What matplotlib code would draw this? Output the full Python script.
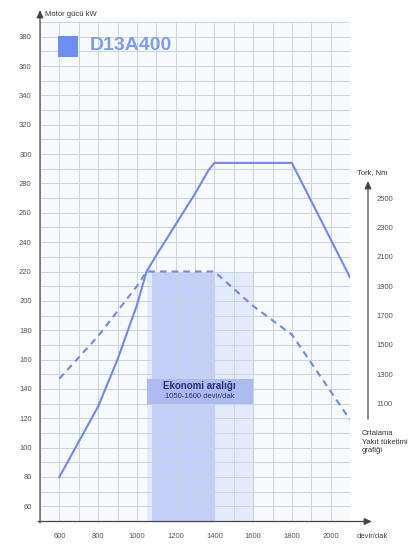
import matplotlib
matplotlib.use("Agg")
import matplotlib.pyplot as plt
from matplotlib.ticker import MultipleLocator
from matplotlib.patches import Rectangle

# ---- data ----
rpm_power = [600, 800, 900, 1000, 1050, 1100, 1200, 1300, 1370, 1400, 1800, 2100]
power_kw = [80, 128, 160, 197, 220, 231, 252, 273, 289, 294, 294, 216]

rpm_torque = [600, 800, 1000, 1050, 1400, 1600, 1800, 2100]
torque_nm = [1270, 1560, 1900, 2000, 2000, 1765, 1570, 990]

x_ticks = [600, 800, 1000, 1200, 1400, 1600, 1800, 2000]
power_ticks = [60, 80, 100, 120, 140, 160, 180, 200, 220, 240, 260, 280, 300, 320, 340, 360, 380]
torque_ticks = [1100, 1300, 1500, 1700, 1900, 2100, 2300, 2500]

econ_range = [1050, 1600]      # light band
econ_core = [1080, 1400]       # darker band
econ_top_kw = 220              # band top (2000 Nm level)
econ_box_kw = [130, 147]

model_name = "D13A400"
x_label = "devir/dak"
left_label = "Motor gücü kW"
right_label = "Tork, Nm"
right_note = "Ortalama\nYakıt tüketimi\ngrafiği"
econ_line1 = "Ekonomi aralığı"
econ_line2 = "1050-1600 devir/dak"


def kw_to_nm(p):
    return 10 * p - 200


W, H = 413, 548
fig = plt.figure(figsize=(W / 100, H / 100), dpi=100)
fig.patch.set_facecolor("white")
ax = fig.add_axes([40 / W, 27 / H, 310 / W, 499 / H])
ax.set_facecolor("#f7fbfe")
ax.set_xlim(500, 2100)
ax.set_ylim(50, 390)

line_col = "#7189e6"
font = ["Liberation Sans", "DejaVu Sans"]

# bands
ax.fill_between(econ_range, 50, econ_top_kw, color="#e2eafb", lw=0, zorder=0.3)
ax.fill_between(econ_core, 50, econ_top_kw, color="#c3cff8", lw=0, zorder=0.35)

# grid
ax.set_xticks(x_ticks)
ax.set_yticks(power_ticks)
ax.xaxis.set_minor_locator(MultipleLocator(100))
ax.yaxis.set_minor_locator(MultipleLocator(10))
ax.set_axisbelow(True)
ax.grid(which="both", color="#c9d4de", lw=0.7)
for s in ax.spines.values():
    s.set_visible(False)
ax.tick_params(which="both", length=0)
ax.tick_params(axis="y", labelsize=5.5, labelcolor="#555555", pad=6)
ax.tick_params(axis="x", labelsize=5.5, labelcolor="#555555", pad=9)
for lab in ax.get_xticklabels() + ax.get_yticklabels():
    lab.set_family(font)

# power line
ax.plot(rpm_power, power_kw, color=line_col, lw=1.5, solid_joinstyle="round", zorder=3)

# economy box
ax.add_patch(Rectangle((econ_range[0], econ_box_kw[0]), econ_range[1] - econ_range[0],
                       econ_box_kw[1] - econ_box_kw[0], facecolor="#adbbf1",
                       edgecolor="none", zorder=2))
xc = (econ_range[0] + econ_range[1]) / 2
ax.text(xc, econ_box_kw[1] - 5, econ_line1, ha="center", va="center",
        fontsize=7, color="#27307a", family=font, fontweight="bold", zorder=4)
ax.text(xc, econ_box_kw[0] + 4.5, econ_line2, ha="center", va="center",
        fontsize=5.5, color="#27307a", family=font, zorder=4)

# torque axis
ax2 = ax.twinx()
ax2.set_ylim(kw_to_nm(50), kw_to_nm(390))
ax2.set_yticks(torque_ticks)
for s in ax2.spines.values():
    s.set_visible(False)
ax2.tick_params(length=0, labelsize=5.5, labelcolor="#555555", pad=19)
for lab in ax2.get_yticklabels():
    lab.set_family(font)
ax2.plot(rpm_torque, torque_nm, color=line_col, lw=1.5, ls=(0, (3.2, 2.4)), zorder=3)

# axis lines with arrows (figure pixels)
arrow = dict(arrowstyle="-|>,head_length=0.45,head_width=0.2", color="#444444", lw=0.9,
             shrinkA=0, shrinkB=0)
ax.annotate("", xy=(40, H - 10), xytext=(40, 25), xycoords="figure pixels",
            textcoords="figure pixels", arrowprops=arrow, annotation_clip=False)
ax.annotate("", xy=(372, 26.5), xytext=(38, 26.5), xycoords="figure pixels",
            textcoords="figure pixels", arrowprops=arrow, annotation_clip=False)
ax.annotate("", xy=(368, H - 181), xytext=(368, H - 419), xycoords="figure pixels",
            textcoords="figure pixels", arrowprops=arrow, annotation_clip=False)

# texts
fig.text(45 / W, 1 - 14 / H, left_label, fontsize=5.5, color="#333333",
         va="center", ha="left", family=font)
fig.text(357 / W, 1 - 173 / H, right_label, fontsize=5.5, color="#333333",
         va="center", ha="left", family=font)
fig.text(362 / W, 1 - 442 / H, right_note, fontsize=5.5, color="#333333",
         va="center", ha="left", family=font, linespacing=1.35)
fig.text(357 / W, 1 - 537 / H, x_label, fontsize=5.5, color="#444444",
         va="center", ha="left", family=font)

# legend
fig.add_artist(Rectangle((58 / W, 1 - 57 / H), 20 / W, 21 / H, facecolor="#6d8ff0",
                         edgecolor="none", transform=fig.transFigure))
fig.text(90 / W, 1 - 46 / H, model_name, fontsize=14, fontweight="bold",
         color="#7d9cf0", va="center", ha="left", family=font)

fig.savefig("out.png", dpi=100, facecolor="white")
